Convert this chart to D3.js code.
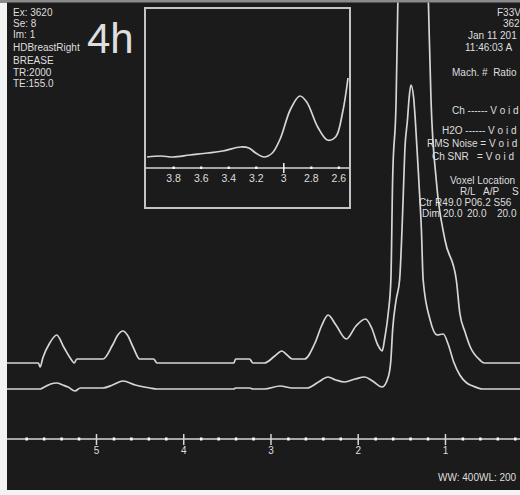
<!DOCTYPE html>
<html><head><meta charset="utf-8">
<script src="https://cdn.jsdelivr.net/npm/d3@7"></script>
<style>
html,body{margin:0;padding:0;background:#fff;}
svg{display:block;}
text{font-family:"Liberation Sans",Arial,sans-serif;fill:#dedede;white-space:pre;}
</style></head><body>
<svg id="chart" width="520" height="495"></svg>
<script>
// Spectrum of the upper acquisition: chemical shift (ppm) and signal height
const upperPpm = [6.02,5.66,5.64,5.61,5.53,5.45,5.37,5.28,5.25,5.22,4.92,4.81,4.75,4.69,4.64,4.57,4.50,4.34,4.30,3.42,3.40,3.24,3.20,3.07,2.95,2.87,2.81,2.75,2.61,2.49,2.41,2.34,2.25,2.13,2.02,1.91,1.84,1.77,1.72,1.69,1.65,1.62,1.60,1.56,1.54,1.48,1.36,1.25,1.19,1.16,1.10,1.00,0.87,0.83,0.77,0.71,0.60,0.55,0.14];
const upperSignal = [0,0,-4,5,20,28,16,3,0,4,4,18,28,32,28,15,4,4,0,0,4,4,0,0,7,12,8,4,4,20,38,48,38,24,37,44,35,18,12,25,50,83,183,263,361,560,690,560,361,263,183,123,83,50,31,16,3,0,0];

// Spectrum of the lower acquisition
const lowerPpm = [6.02,5.64,5.59,5.52,5.45,5.38,5.32,5.24,5.18,4.92,4.81,4.69,4.55,4.38,4.30,3.42,3.40,3.24,3.20,3.07,2.89,2.75,2.58,2.45,2.34,2.25,2.15,2.03,1.92,1.83,1.72,1.65,1.62,1.60,1.56,1.52,1.48,1.46,1.43,1.41,1.39,1.36,1.34,1.30,1.27,1.25,1.17,1.09,1.02,0.96,0.90,0.83,0.75,0.68,0.57,0.14];
const lowerSignal = [0,0,2,5,6,4,2,-2,1,1,4,8,4,1,0,0,1,1,0,0,3,1,1,7,12,9,7,10,12,8,2,12,29,59,89,109,189,239,269,292,304,292,269,209,159,109,69,54,55,44,27,14,6,3,0,0];

// Zoomed region 4.0 - 2.5 ppm
const insetPpm = [3.99,3.89,3.80,3.68,3.55,3.44,3.31,3.25,3.20,3.14,3.08,3.02,2.95,2.88,2.83,2.75,2.68,2.62,2.57,2.53];
const insetSignal = [11,12,11,13,15,17,21,20,15,11,15,30,58,72,66,41,28,31,55,90];

const majorTicks = [5,4,3,2,1];
const minorTicks = [5.8,5.6,5.4,5.2,4.8,4.6,4.4,4.2,3.8,3.6,3.4,3.2,2.8,2.6,2.4,2.2,1.8,1.6,1.4,1.2,0.8,0.6,0.4,0.2];
const insetTicks = [3.8,3.6,3.4,3.2,3,2.8,2.6];

const headerLeft = ["Ex: 3620","Se: 8","Im: 1","HDBreastRight","BREASE","TR:2000","TE:155.0"];

const svg = d3.select("#chart");
const bg = "#1b1b1b", ink = "#d6d6d6";

svg.append("rect").attr("width",520).attr("height",495).attr("fill","#f3f3f3");
svg.append("rect").attr("width",520).attr("height",3).attr("fill","#8a8a8a");
svg.append("rect").attr("x",7).attr("y",2.5).attr("width",513).attr("height",487.5).attr("fill",bg);

const defs = svg.append("defs");
defs.append("clipPath").attr("id","plotClip")
  .append("rect").attr("x",7).attr("y",2.5).attr("width",513).attr("height",487.5);
defs.append("clipPath").attr("id","insetClip")
  .append("rect").attr("x",146).attr("y",9).attr("width",203).attr("height",198);

const x = d3.scaleLinear().domain([6.02, 0.14]).range([7, 520]);
const y = d3.scaleLinear().domain([0, 100]).range([389, 289]);
const upperOffset = 26;

const line = d3.line().curve(d3.curveMonotoneX);

const plot = svg.append("g").attr("clip-path","url(#plotClip)");
plot.append("path")
  .attr("d", line(upperPpm.map((p,i)=>[x(p), y(upperSignal[i]+upperOffset)])))
  .attr("fill","none").attr("stroke",ink).attr("stroke-width",1.7);
plot.append("path")
  .attr("d", line(lowerPpm.map((p,i)=>[x(p), y(lowerSignal[i])])))
  .attr("fill","none").attr("stroke",ink).attr("stroke-width",1.7);

// ppm axis
const axisG = svg.append("g").attr("transform","translate(0,439)");
axisG.append("line").attr("x1",7).attr("x2",520).attr("stroke",ink).attr("stroke-width",1.6);
const minorG = axisG.append("g")
  .call(d3.axisBottom(x).tickValues(minorTicks).tickSize(0).tickFormat(""));
minorG.select(".domain").remove();
minorG.selectAll(".tick line").attr("y1",-1.5).attr("y2",1.5).attr("stroke","#ffffff").attr("stroke-width",2.5);
const majorG = axisG.append("g")
  .call(d3.axisBottom(x).tickValues(majorTicks).tickSize(6).tickPadding(2).tickFormat(d3.format("d")));
majorG.select(".domain").remove();
majorG.selectAll(".tick line").attr("y1",-5).attr("y2",6).attr("stroke",ink).attr("stroke-width",1.5);
majorG.selectAll(".tick text").attr("fill",ink).style("font-size","10px")
  .style("font-family","Liberation Sans, Arial, sans-serif");

// Header text blocks
const tl = svg.append("g").style("font-size","10px");
headerLeft.forEach((t,i)=>{
  tl.append("text").attr("x",13).attr("y",[16,27,38,51,64,76,87][i]).text(t);
});
svg.append("text").attr("x",87).attr("y",53).style("font-size","42px").text("4h");

const tr = svg.append("g").style("font-size","10px");
// [x, baseline, text]
const rightLines = [
  [497,16,"F33V"],[503,27,"362"],[468,39,"Jan 11 201"],[465,51,"11:46:03 A"],
  [452,76,"Mach. #  Ratio"],
  [452,114,"Ch ------ V o i d"],
  [442,134,"H2O ------ V o i d"],
  [427,147,"RMS Noise = V o i d"],
  [432,160,"Ch SNR   = V o i d"],
  [450,184,"Voxel Location"],
  [460,195,"R/L"],[483,195,"A/P"],[512,195,"S"],
  [419,206,"Ctr R49.0 P06.2 S56"],
  [422,217,"Dim"],[443,217,"20.0"],[467,217,"20.0"],[497,217,"20.0"],
  [438,481,"WW: 400WL: 200"]
];
rightLines.forEach(([tx,ty,t])=>tr.append("text").attr("x",tx).attr("y",ty).text(t));

// Inset: expanded view of 4.0 - 2.5 ppm
const xi = d3.scaleLinear().domain([3.99, 2.53]).range([147, 348]);
const yi = d3.scaleLinear().domain([0, 100]).range([168, 68]);
const inset = svg.append("g");
inset.append("rect").attr("x",145).attr("y",8).attr("width",205).attr("height",200)
  .attr("fill",bg).attr("stroke","#c4c4c4").attr("stroke-width",2);
const insetPlot = inset.append("g").attr("clip-path","url(#insetClip)");
insetPlot.append("path")
  .attr("d", d3.line().curve(d3.curveCatmullRom.alpha(0.5))(insetPpm.map((p,i)=>[xi(p), yi(insetSignal[i])])))
  .attr("fill","none").attr("stroke",ink).attr("stroke-width",1.7);
const iAxis = inset.append("g").attr("transform","translate(0,168)");
iAxis.append("line").attr("x1",146).attr("x2",349).attr("stroke",ink).attr("stroke-width",1.6);
const iTicks = iAxis.append("g")
  .call(d3.axisBottom(xi).tickValues(insetTicks).tickSize(0).tickPadding(10).tickFormat(d3.format("~g")));
iTicks.select(".domain").remove();
iTicks.selectAll(".tick line").attr("y1",d=>d===3?-5:-1.5).attr("y2",d=>d===3?5:1)
  .attr("stroke","#ffffff").attr("stroke-width",d=>d===3?1.4:2.2);
iTicks.selectAll(".tick text").attr("fill",ink).attr("dy","0.35em").style("font-size","10.5px")
  .style("font-family","Liberation Sans, Arial, sans-serif");
</script>
</body></html>
